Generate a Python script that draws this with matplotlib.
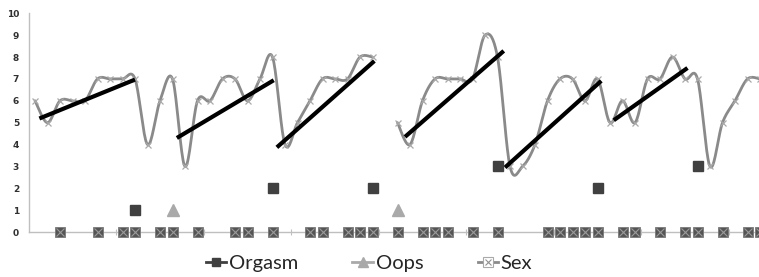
import numpy as np
import matplotlib
matplotlib.use("Agg")
import matplotlib.pyplot as plt
from matplotlib.lines import Line2D
from matplotlib.legend_handler import HandlerTuple

# ---------------- data ----------------
n_days = 59
sex_values = [6, 5, 6, 6, 6, 7, 7, 7, 7, 4, 6, 7, 3, 6, 6, 7, 7, 6, 7, 8,
              4, 5, 6, 7, 7, 7, 8, 8, np.nan, 5, 4, 6, 7, 7, 7, 7, 9, 8, 3, 3,
              4, 6, 7, 7, 6, 7, 5, 6, 5, 7, 7, 8, 7, 7, 3, 5, 6, 7, 7]
orgasm_days = [8, 19, 27, 37, 45, 53]
orgasm_values = [1, 2, 2, 3, 2, 3]
oops_days = [11, 29]
oops_values = [1, 1]
zero_days = [2, 5, 7, 8, 10, 11, 13, 16, 17, 19, 22, 23, 25, 26, 27, 29, 31, 32,
             33, 35, 37, 41, 42, 43, 44, 45, 47, 48, 50, 52, 53, 55, 57, 58]
# trend segments: start day, start value, end day, end value
trend_x0 = [0.35, 11.35, 19.35, 29.6, 37.6, 46.3]
trend_y0 = [5.19, 4.30, 3.87, 4.35, 2.95, 5.11]
trend_x1 = [8.0, 19.1, 27.15, 37.5, 45.3, 52.2]
trend_y1 = [6.97, 6.94, 7.82, 8.28, 6.91, 7.50]
legend_labels = ["Orgasm", "Oops", "Sex"]


def smooth(xs, ys, steps=20):
    """Excel-like smoothed (Catmull-Rom Bezier) curve through points."""
    xs = np.asarray(xs, float)
    ys = np.asarray(ys, float)
    n = len(xs)
    if n < 2:
        return xs, ys
    outx, outy = [], []
    t = np.linspace(0, 1, steps)
    for i in range(n - 1):
        p0 = np.array([xs[max(i - 1, 0)], ys[max(i - 1, 0)]])
        p1 = np.array([xs[i], ys[i]])
        p2 = np.array([xs[i + 1], ys[i + 1]])
        p3 = np.array([xs[min(i + 2, n - 1)], ys[min(i + 2, n - 1)]])
        c1 = p1 + (p2 - p0) / 6.0
        c2 = p2 - (p3 - p1) / 6.0
        b = ((1 - t) ** 3)[:, None] * p1 + (3 * (1 - t) ** 2 * t)[:, None] * c1 \
            + (3 * (1 - t) * t ** 2)[:, None] * c2 + (t ** 3)[:, None] * p2
        outx.extend(b[:, 0])
        outy.extend(b[:, 1])
    return np.array(outx), np.array(outy)


W, H = 759, 277
fig = plt.figure(figsize=(W / 100, H / 100), dpi=100)
left_px, right_px = 28.75, 766.25
bot_px, top_px = 232.0, 13.3
ax = fig.add_axes([left_px / W, (H - bot_px) / H,
                   (right_px - left_px) / W, (bot_px - top_px) / H])

days = np.arange(n_days)
sv = np.asarray(sex_values, float)

line_grey = "#8a8a8a"
marker_light = "#a9a9a9"
dark = "#404040"

# smoothed sex curve, broken at blanks
seg = []
for d in list(days) + [None]:
    if d is not None and not np.isnan(sv[d]):
        seg.append(d)
    else:
        if seg:
            sx, sy = smooth(days[seg], sv[seg])
            ax.plot(sx, sy, color=line_grey, lw=2.0, zorder=2,
                    solid_capstyle="round")
        seg = []
ax.plot(days, sv, ls="none", marker="x", ms=5, mew=0.9, color=marker_light,
        zorder=3)

# trend lines
for x0, y0, x1, y1 in zip(trend_x0, trend_y0, trend_x1, trend_y1):
    ax.plot([x0, x1], [y0, y1], color="black", lw=3.0, zorder=4,
            solid_capstyle="butt")

# zero-row markers
zv = np.zeros(len(zero_days))
ax.plot(zero_days, zv, ls="none", marker="s", ms=7, color="#555555",
        mec="#7a7a7a", mew=0.6, zorder=5, clip_on=False)
ax.plot(zero_days, zv, ls="none", marker="x", ms=6, mew=0.8,
        color="#9a9a9a", zorder=6, clip_on=False)

# orgasm / oops markers
ax.plot(orgasm_days, orgasm_values, ls="none", marker="s", ms=7, color=dark,
        zorder=5)
ax.plot(oops_days, oops_values, ls="none", marker="^", ms=8,
        color=marker_light, zorder=5)

ax.set_xlim(-0.5, n_days - 0.5)
ax.set_ylim(0, 10)
ax.set_yticks(range(0, 11))
ax.set_xticks(np.arange(6.5, n_days, 7))
ax.set_xticklabels([])
for s in ["top", "right"]:
    ax.spines[s].set_visible(False)
ax.spines["left"].set_color("#bfbfbf")
ax.spines["bottom"].set_color("#bfbfbf")
ax.spines["left"].set_linewidth(1.0)
ax.spines["bottom"].set_linewidth(1.0)
ax.tick_params(axis="y", length=0, pad=7, labelsize=6.5, labelcolor="#303030")
ax.tick_params(axis="x", length=4, direction="inout", color="#bfbfbf")
for lab in ax.get_yticklabels():
    lab.set_fontweight("bold")
ax.patch.set_visible(False)

# legend
h_org = Line2D([], [], color=dark, lw=2, marker="s", ms=6)
h_oops = Line2D([], [], color=marker_light, lw=2, marker="^", ms=7)
h_sex_line = Line2D([], [], color=line_grey, lw=2)
h_sex_box = Line2D([], [], ls="none", marker="s", ms=7, mfc="white",
                   mec=marker_light, mew=0.8)
h_sex_x = Line2D([], [], ls="none", marker="x", ms=5, color="#909090",
                 mew=0.8)
leg = fig.legend([h_org, h_oops, (h_sex_line, h_sex_box, h_sex_x)],
                 legend_labels, ncol=3, loc="center",
                 bbox_to_anchor=(369 / W, 1 - 263 / H), frameon=False,
                 handlelength=1.0, handletextpad=0.15, columnspacing=2.7,
                 prop={"family": "Lato", "size": 14.5},
                 handler_map={tuple: HandlerTuple(ndivide=1, pad=0)})
for t in leg.get_texts():
    t.set_color("#262626")

fig.savefig("out.png", dpi=100)
